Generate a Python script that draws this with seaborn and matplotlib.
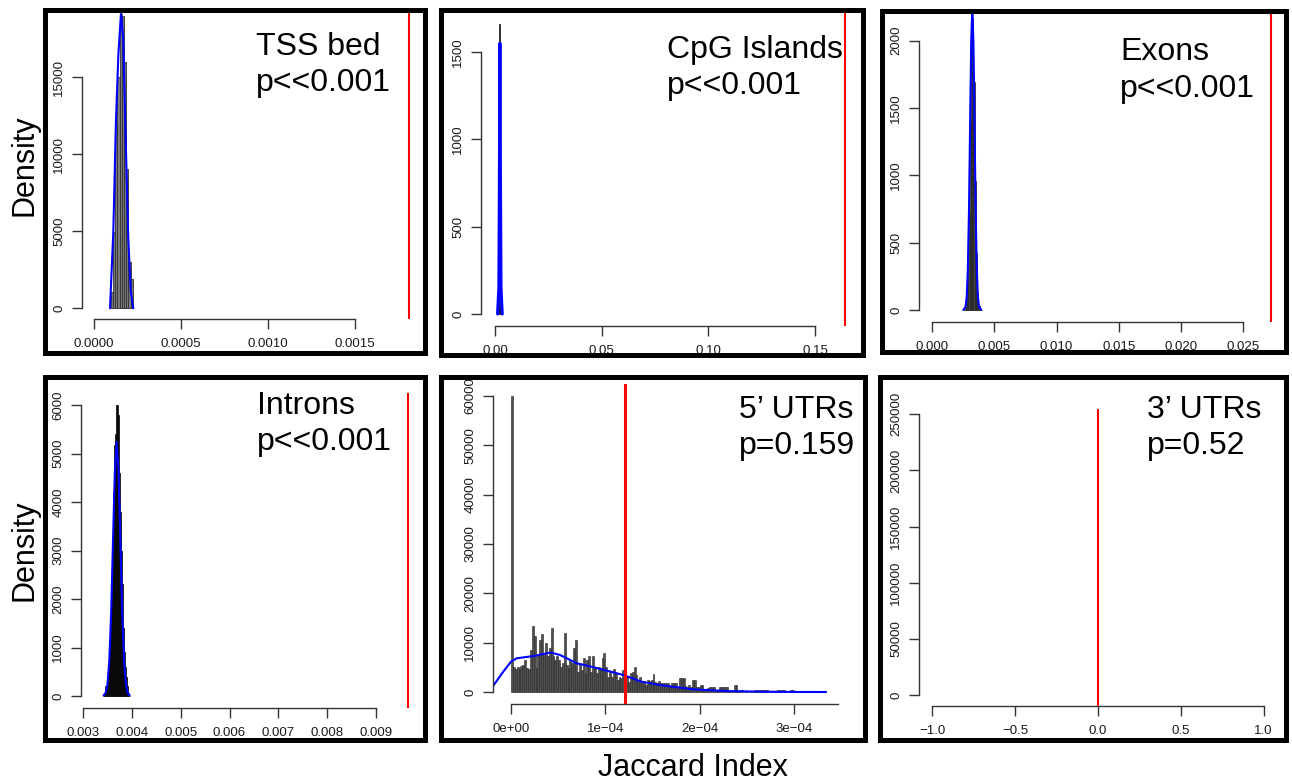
import numpy as np
import pandas as pd
import matplotlib
matplotlib.use("Agg")
import matplotlib.pyplot as plt
from matplotlib.patches import Rectangle
import seaborn as sns

# ---------------------------------------------------------------- data
# Null distributions of the Jaccard index (density histograms, bin start/width + heights),
# smoothed density curves, and the observed Jaccard index for each feature set.

tss_bin_start, tss_bin_width = 0.0000975, 0.0000125
tss_hist = [1060, 4950, 12000, 15000, 19100, 19000, 16000, 9050, 3000, 1900]
tss_kde_x = [9.2e-5, 1.11e-4, 1.26e-4, 1.40e-4, 1.55e-4, 1.68e-4, 1.82e-4, 1.97e-4, 2.11e-4, 2.26e-4]
tss_kde_y = [0, 4970, 12100, 16450, 19150, 17530, 11040, 4550, 1100, 0]
tss_obs = 0.00181

cpg_bin_start, cpg_bin_width = 0.0015, 0.0005
cpg_hist = [40, 1660, 40]
cpg_kde_x = [0.0012, 0.0018, 0.0021, 0.0023, 0.0025, 0.0028, 0.0034]
cpg_kde_y = [0, 150, 900, 1550, 900, 150, 0]
cpg_obs = 0.164

exon_bin_start, exon_bin_width = 0.0025, 0.0001
exon_hist = [3, 18, 70, 260, 720, 1400, 2050, 2170, 1690, 960, 420, 130, 30, 6, 1]
exon_kde_x = [0.00250, 0.00268, 0.00277, 0.00286, 0.00295, 0.00304, 0.00313, 0.00322,
              0.00331, 0.00340, 0.00349, 0.00358, 0.00367, 0.00376, 0.00394]
exon_kde_y = [0, 25, 99, 305, 730, 1365, 1986, 2250, 1986, 1365, 730, 305, 99, 25, 0]
exon_obs = 0.02725

intron_bin_start, intron_bin_width = 0.00340, 0.00002
intron_hist = [0, 0, 60, 200, 180, 320, 560, 950, 1500, 2300, 3100, 4200, 5170, 5400,
               6000, 6000, 5800, 4600, 3800, 3000, 2300, 1400, 900, 600, 400, 200, 60, 0]
intron_kde_x = [0.003420, 0.003462, 0.003500, 0.003538, 0.003576, 0.003614, 0.003652, 0.003690,
                0.003728, 0.003766, 0.003804, 0.003842, 0.003880, 0.003918, 0.003956]
intron_kde_y = [11, 58, 230, 709, 1701, 3178, 4624, 5240, 4624, 3178, 1701, 709, 230, 58, 11]
intron_obs = 0.009655

utr5_bin_start, utr5_bin_width = 0.0, 2e-6
utr5_hist = [60000, 5000, 4600, 5000, 4600, 5300, 5500, 6500, 4800, 4600,
             8500, 13400, 11400, 4800, 7500, 10500, 11800, 7500, 9900, 7200,
             8900, 12900, 7200, 6500, 7200, 6500, 5100, 5800, 11900, 5500,
             4800, 6500, 5800, 8900, 10500, 4100, 5800, 4500, 6800, 3800,
             6500, 7300, 4100, 7300, 5100, 3800, 5000, 4800, 6800, 8000,
             5100, 3100, 4100, 3100, 4600, 3800, 2400, 3100, 2800, 4500,
             2400, 3100, 2100, 3800, 4000, 5000, 3500, 2500, 3000, 1800,
             2200, 1500, 2500, 2200, 2500, 3600, 2000, 1800, 2200, 1900,
             1900, 1900, 1900, 1900, 1200, 1900, 1900, 1900, 1000, 2900,
             2900, 2900, 1200, 1000, 1400, 1100, 2400, 2400, 1000, 1000,
             1400, 1400, 700, 600, 800, 950, 950, 950, 500, 500,
             950, 950, 950, 950, 950, 300, 300, 300, 1400, 1400,
             200, 400, 400, 100, 200, 0, 100, 200, 0, 400,
             400, 400, 400, 400, 400, 400, 0, 100, 0, 0,
             100, 400, 400, 400, 400, 0, 0, 0, 400, 400]
utr5_kde_x = [-1.9e-5, -8.2e-6, 0.0, 6e-6, 2.4e-5, 4.2e-5, 5.2e-5, 7.0e-5, 8.8e-5, 1.06e-4,
              1.19e-4, 1.38e-4, 1.58e-4, 1.93e-4, 2.28e-4, 2.64e-4, 3.00e-4, 3.34e-4]
utr5_kde_y = [1216, 4120, 6140, 6830, 7300, 8000, 7500, 5800, 5000, 4100,
              3450, 2100, 1400, 540, 200, 70, 10, 0]
utr5_obs = 1.208e-4

utr3_obs = 0.0

panel_names = ["TSS bed", "CpG Islands", "Exons", "Introns", "5\u2019 UTRs", "3\u2019 UTRs"]
panel_pvals = ["p<<0.001", "p<<0.001", "p<<0.001", "p<<0.001", "p=0.159", "p=0.52"]

# ---------------------------------------------------------------- style
sns.set_style("ticks")
plt.rcParams["font.family"] = ["Liberation Sans", "DejaVu Sans"]
plt.rcParams["axes.unicode_minus"] = True
plt.rcParams["text.color"] = "black"

W, H = 1292, 784
fig = plt.figure(figsize=(W / 100, H / 100), dpi=100)
fig.patch.set_facecolor("white")

AXIS_COLOR = "#333333"


def make_axes(rect, xref, yref):
    """rect = (left, top, right, bottom) in pixels; xref/yref = two (pixel, value) pairs."""
    L, T, R, B = rect
    ax = fig.add_axes([L / W, 1 - B / H, (R - L) / W, (B - T) / H])
    (px0, vx0), (px1, vx1) = xref
    sx = (vx1 - vx0) / (px1 - px0)
    xlim = (vx0 + (L - px0) * sx, vx0 + (R - px0) * sx)
    (py0, vy0), (py1, vy1) = yref
    sy = (vy1 - vy0) / (py1 - py0)
    ylim = (vy0 + (B - py0) * sy, vy0 + (T - py0) * sy)
    ax.set_facecolor("none")
    return ax, xlim, ylim


def style_axes(ax, xlim, ylim, xticks, xlabels, yticks):
    ax.set_xlim(*xlim)
    ax.set_ylim(*ylim)
    ax.set_xticks(xticks)
    ax.set_xticklabels(xlabels)
    ax.set_yticks(yticks)
    ax.set_yticklabels([f"{int(v)}" for v in yticks])
    sns.despine(ax=ax, trim=True)
    for side in ("left", "bottom"):
        ax.spines[side].set_color(AXIS_COLOR)
        ax.spines[side].set_linewidth(1.0)
    ax.tick_params(axis="both", direction="out", length=7, width=1.0, color=AXIS_COLOR,
                   labelcolor="#1a1a1a")
    ax.tick_params(axis="x", labelsize=9.5, pad=7)
    ax.tick_params(axis="y", labelsize=9.5, pad=5, labelrotation=90)
    for lab in ax.get_yticklabels():
        lab.set_va("center")
    ax.set_xlabel("")
    ax.set_ylabel("")


def draw_hist(ax, start, width, heights, face, edge, lw):
    n = len(heights)
    centers = start + width * (np.arange(n) + 0.5)
    df = pd.DataFrame({"x": centers, "h": np.asarray(heights, dtype=float)})
    sns.histplot(data=df, x="x", weights="h", bins=n, binrange=(start, start + n * width),
                 stat="count", ax=ax, color=face, edgecolor=edge, linewidth=lw, alpha=1.0)


def draw_kde(ax, xs, ys, lw=1.5):
    df = pd.DataFrame({"x": xs, "y": ys})
    sns.lineplot(data=df, x="x", y="y", ax=ax, color="#0000ff", linewidth=lw, estimator=None,
                 sort=False, legend=False)


def draw_obs(ax, x, lw=1.5):
    ax.axvline(x, color="#ff0000", linewidth=lw, zorder=5)


# panel 1: TSS
ax1, xl, yl = make_axes((82, 12.5, 422, 319), ((94, 0), (355, 0.0015)), ((308.3, 0), (77.3, 15000)))
draw_hist(ax1, tss_bin_start, tss_bin_width, tss_hist, "#7a7a7a", "#303030", 0.6)
draw_kde(ax1, tss_kde_x, tss_kde_y)
draw_obs(ax1, tss_obs)
style_axes(ax1, xl, yl, [0, 0.0005, 0.001, 0.0015], ["0.0000", "0.0005", "0.0010", "0.0015"],
           [0, 5000, 10000, 15000])

# panel 2: CpG islands
ax2, xl, yl = make_axes((481, 12.5, 860, 326), ((495, 0), (815, 0.15)), ((314, 0), (52, 1500)))
draw_hist(ax2, cpg_bin_start, cpg_bin_width, cpg_hist, "#444444", "#222222", 0.6)
draw_kde(ax2, cpg_kde_x, cpg_kde_y, lw=2.2)
draw_obs(ax2, cpg_obs)
style_axes(ax2, xl, yl, [0, 0.05, 0.10, 0.15], ["0.00", "0.05", "0.10", "0.15"],
           [0, 500, 1000, 1500])

# panel 3: exons
ax3, xl, yl = make_axes((919, 13.5, 1283, 322), ((932.3, 0), (1243, 0.025)), ((310, 0), (40.7, 2000)))
draw_hist(ax3, exon_bin_start, exon_bin_width, exon_hist, "#444444", "#222222", 0.5)
draw_kde(ax3, exon_kde_x, exon_kde_y)
draw_obs(ax3, exon_obs)
style_axes(ax3, xl, yl, [0, 0.005, 0.010, 0.015, 0.020, 0.025],
           ["0.000", "0.005", "0.010", "0.015", "0.020", "0.025"],
           [0, 500, 1000, 1500, 2000])

# panel 4: introns
ax4, xl, yl = make_axes((81, 393, 422, 708), ((83, 0.003), (376, 0.009)), ((696, 0), (405, 6000)))
draw_hist(ax4, intron_bin_start, intron_bin_width, intron_hist, "#111111", "#000000", 0.5)
draw_kde(ax4, intron_kde_x, intron_kde_y)
draw_obs(ax4, intron_obs)
style_axes(ax4, xl, yl, [0.003, 0.004, 0.005, 0.006, 0.007, 0.008, 0.009],
           ["0.003", "0.004", "0.005", "0.006", "0.007", "0.008", "0.009"],
           [0, 1000, 2000, 3000, 4000, 5000, 6000])

# panel 5: 5' UTRs
ax5, xl, yl = make_axes((493, 384, 862, 704), ((511, 0), (794, 3e-4)), ((692, 0), (396, 60000)))
draw_hist(ax5, utr5_bin_start, utr5_bin_width, utr5_hist, "#4f4f4f", "#262626", 0.4)
draw_kde(ax5, utr5_kde_x, utr5_kde_y)
draw_obs(ax5, utr5_obs, lw=2.2)
style_axes(ax5, xl, yl, [0, 1e-4, 2e-4, 3e-4],
           ["0e+00", "1e\u221204", "2e\u221204", "3e\u221204"],
           [0, 10000, 20000, 30000, 40000, 50000, 60000])
ax5.spines["bottom"].set_bounds(0, 3.47e-4)

# panel 6: 3' UTRs
ax6, xl, yl = make_axes((919, 409, 1283, 706), ((932.3, -1), (1263.7, 1)), ((695, 0), (414.3, 250000)))
draw_obs(ax6, utr3_obs)
style_axes(ax6, xl, yl, [-1.0, -0.5, 0.0, 0.5, 1.0],
           ["\u22121.0", "\u22120.5", "0.0", "0.5", "1.0"],
           [0, 50000, 100000, 150000, 200000, 250000])

# ---------------------------------------------------------------- annotations
label_pos = [(256, 55, 91), (667, 58, 94), (1120, 60, 97),
             (257, 414, 450), (739, 418, 454), (1147, 418, 454)]
for (x, y1, y2), name, pv in zip(label_pos, panel_names, panel_pvals):
    fig.text(x / W, 1 - y1 / H, name, fontsize=23, ha="left", va="baseline", color="black")
    fig.text(x / W, 1 - y2 / H, pv, fontsize=23, ha="left", va="baseline", color="black")

fig.text(25 / W, 1 - 165 / H, "Density", fontsize=22, rotation=90, ha="center", va="center",
         color="black")
fig.text(25 / W, 1 - 550 / H, "Density", fontsize=22, rotation=90, ha="center", va="center",
         color="black")
fig.text(693 / W, 1 - 768 / H, "Jaccard Index", fontsize=22, ha="center", va="center",
         color="black")

# thick frames around each panel
frames = [(45.5, 10, 424.5, 352.5), (441, 10, 862.5, 355), (881.5, 11, 1285.5, 352),
          (45.5, 376.5, 424.5, 739.5), (440.5, 376.5, 865, 739.5), (880, 376.5, 1285.5, 739.5)]
for (x0, y0, x1, y1) in frames:
    fig.add_artist(Rectangle((x0 / W, 1 - y1 / H), (x1 - x0) / W, (y1 - y0) / H,
                             transform=fig.transFigure, fill=False, linewidth=3.6,
                             edgecolor="black", zorder=10))

fig.savefig("out.png", dpi=100, facecolor="white")
